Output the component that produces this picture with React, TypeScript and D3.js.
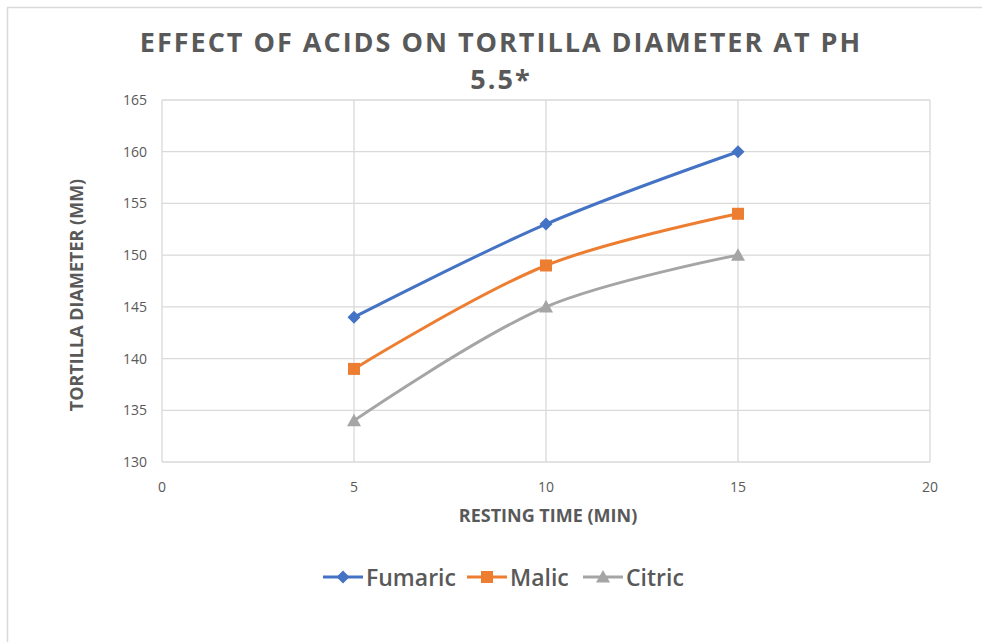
import React from "react";
import * as d3 from "d3";

const xValues = [5, 10, 15];
const fumaric = [144, 153, 160];
const malic = [139, 149, 154];
const citric = [134, 145, 150];
const seriesNames = ["Fumaric", "Malic", "Citric"];
const xTicks = [0, 5, 10, 15, 20];
const yTicks = [130, 135, 140, 145, 150, 155, 160, 165];

const W = 982, H = 642;
const FONT = "'Open Sans', 'Liberation Sans', sans-serif";
const TEXT = "#595959";
const GRID = "#d9d9d9";
const colors = ["#4472C4", "#ED7D31", "#A5A5A5"];
const markers = ["diamond", "square", "triangle"];

function Marker({ type, x, y, color }: { type: string; x: number; y: number; color: string }) {
  if (type === "diamond") {
    const r = 6.5;
    return <path d={`M${x},${y - r}L${x + r},${y}L${x},${y + r}L${x - r},${y}Z`} fill={color} />;
  }
  if (type === "square") {
    const s = 6;
    return <rect x={x - s} y={y - s} width={2 * s} height={2 * s} fill={color} />;
  }
  const r = 7;
  return <path d={`M${x},${y - r}L${x + r},${y + r * 0.8}L${x - r},${y + r * 0.8}Z`} fill={color} />;
}

export default function App() {
  const x = d3.scaleLinear().domain([0, 20]).range([162, 930]);
  const y = d3.scaleLinear().domain([130, 165]).range([462, 100]);
  const data = [fumaric, malic, citric];
  const line = d3
    .line<[number, number]>()
    .x((d) => x(d[0]))
    .y((d) => y(d[1]))
    .curve(d3.curveCatmullRom.alpha(0.5));

  const legendX = [323, 467, 583];

  return (
    <svg
      width={W}
      height={H}
      style={{ position: "absolute", left: 0, top: 0, background: "#fff" }}
      fontFamily={FONT}
    >
      <rect x={7.5} y={7.5} width={W} height={H} fill="#fff" stroke={GRID} strokeWidth={1.5} />
      <text x={501} y={52} textAnchor="middle" fontSize={27} fontWeight={700} fill={TEXT} letterSpacing={2}>
        EFFECT OF ACIDS ON TORTILLA DIAMETER AT PH
      </text>
      <text x={501} y={89} textAnchor="middle" fontSize={27} fontWeight={700} fill={TEXT} letterSpacing={2}>
        5.5*
      </text>
      {yTicks.map((t) => (
        <g key={"y" + t}>
          <line x1={x(0)} x2={x(20)} y1={y(t)} y2={y(t)} stroke={GRID} strokeWidth={1.3} />
          <text x={147} y={y(t) + 5} textAnchor="end" fontSize={14} fill={TEXT}>
            {t}
          </text>
        </g>
      ))}
      {xTicks.map((t) => (
        <g key={"x" + t}>
          <line x1={x(t)} x2={x(t)} y1={y(130)} y2={y(165)} stroke={GRID} strokeWidth={1.3} />
          <text x={x(t)} y={492} textAnchor="middle" fontSize={14} fill={TEXT}>
            {t}
          </text>
        </g>
      ))}
      <text x={548} y={522} textAnchor="middle" fontSize={18} fontWeight={700} fill={TEXT}>
        RESTING TIME (MIN)
      </text>
      <text
        transform={`translate(83,295) rotate(-90)`}
        textAnchor="middle"
        fontSize={18}
        fontWeight={700}
        fill={TEXT}
      >
        TORTILLA DIAMETER (MM)
      </text>
      {data.map((vals, i) => {
        const pts = vals.map((v, j) => [xValues[j], v] as [number, number]);
        return (
          <g key={"s" + i}>
            <path d={line(pts) || ""} fill="none" stroke={colors[i]} strokeWidth={3} />
            {pts.map((p, j) => (
              <Marker key={j} type={markers[i]} x={x(p[0])} y={y(p[1])} color={colors[i]} />
            ))}
          </g>
        );
      })}
      {seriesNames.map((name, i) => (
        <g key={"l" + i}>
          <line x1={legendX[i]} x2={legendX[i] + 40} y1={577} y2={577} stroke={colors[i]} strokeWidth={3} />
          <Marker type={markers[i]} x={legendX[i] + 20} y={577} color={colors[i]} />
          <text x={legendX[i] + 43} y={586} fontSize={23} fontWeight={600} fill={TEXT}>
            {name}
          </text>
        </g>
      ))}
    </svg>
  );
}
